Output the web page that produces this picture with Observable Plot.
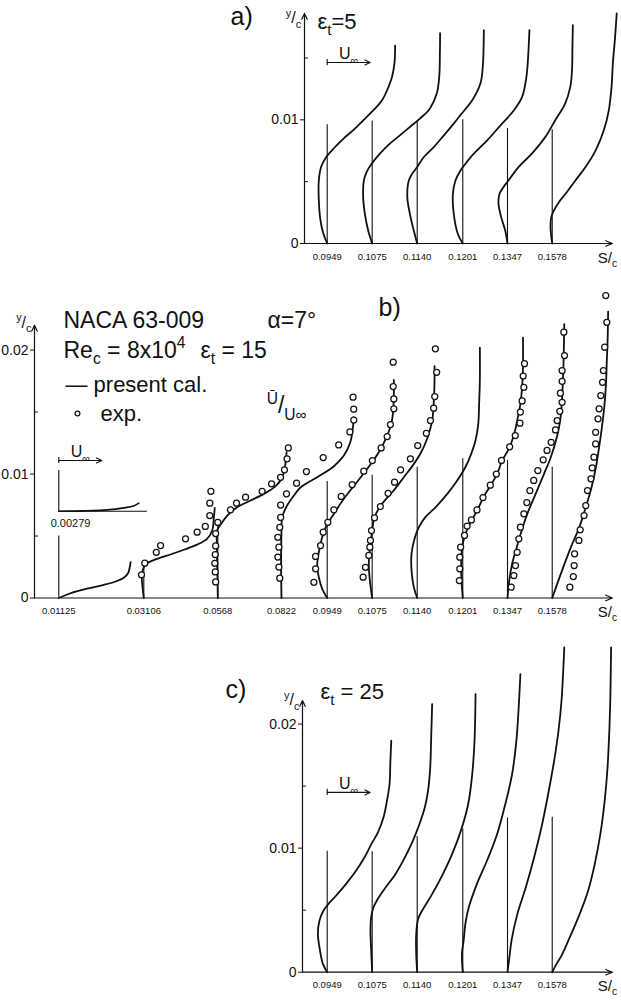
<!DOCTYPE html>
<html><head><meta charset="utf-8">
<script src="https://cdn.jsdelivr.net/npm/d3@7"></script>
<script src="https://cdn.jsdelivr.net/npm/@observablehq/plot@0.6"></script>
<style>body{margin:0;background:#fff} svg{display:block}</style>
</head><body><div id="chart"></div>
<script>
// ---------- DATA ----------
// station origins along the surface (in U∞ units; panel b's s/c origin = 0)
const stationX = [0.565, 2.542, 4.263, 5.744, 6.807, 7.853, 8.9, 9.96, 11.0, 12.04];
const stationLabels = ["0.01125","0.03106","0.0568","0.0822","0.0949","0.1075","0.1140","0.1201","0.1347","0.1578"];
const yTicksA = [0, 0.01], yMinorA = [0.005, 0.015];
const yTicksBC = [0, 0.01, 0.02], yMinorBC = [0.005, 0.015];

// panel a (εt = 5): computed profiles [U/U∞, y/c] at the last six stations
const curvesA = [
  [[0,0],[-0.09,0.0008],[-0.156,0.00186],[-0.195,0.0035],[-0.195,0.0051],[-0.14,0.0062],[-0.04,0.0069],[0.155,0.0077],[0.386,0.0085],[0.62,0.0092],[0.85,0.0100],[1.08,0.0108],[1.28,0.0116],[1.43,0.0127],[1.51,0.0135],[1.565,0.0146],[1.58,0.0160]],
  [[0,0],[-0.093,0.00105],[-0.17,0.0024],[-0.21,0.00375],[-0.193,0.0051],[-0.13,0.00577],[-0.037,0.00632],[0.18,0.00726],[0.41,0.00807],[0.644,0.00874],[0.877,0.00942],[1.11,0.0101],[1.34,0.0109],[1.5,0.0121],[1.56,0.0135],[1.575,0.0154],[1.58,0.0170]],
  [[0,0],[-0.08,0.00105],[-0.17,0.0024],[-0.23,0.00375],[-0.195,0.0051],[-0.116,0.00564],[0,0.00618],[0.155,0.00699],[0.386,0.0078],[0.62,0.00874],[0.85,0.00969],[1.0,0.01036],[1.28,0.01158],[1.47,0.01293],[1.525,0.01428],[1.55,0.01725]],
  [[0,0],[-0.116,0.00079],[-0.21,0.0024],[-0.23,0.00402],[-0.17,0.0051],[-0.053,0.00591],[0.063,0.00645],[0.256,0.00726],[0.567,0.00834],[0.877,0.00955],[1.19,0.01077],[1.38,0.01185],[1.48,0.01347],[1.52,0.0151],[1.55,0.01725]],
  [[0,0],[-0.053,0.00105],[-0.147,0.00213],[-0.209,0.00321],[-0.186,0.00402],[-0.093,0.00456],[0.023,0.0051],[0.256,0.00618],[0.567,0.00726],[0.877,0.0086],[1.11,0.00996],[1.34,0.01131],[1.46,0.01266],[1.5,0.014],[1.51,0.01589],[1.52,0.01765]],
  [[0,0],[-0.04,0.00132],[-0.023,0.00213],[0.04,0.00267],[0.155,0.00334],[0.31,0.00402],[0.54,0.0051],[0.775,0.00618],[1.01,0.00753],[1.2,0.00915],[1.316,0.01077],[1.38,0.01266],[1.41,0.01455],[1.46,0.0166],[1.5,0.0186]]
];
const refA = [0.0096, 0.0099, 0.0099, 0.0100, 0.0093, 0.0092];

// panel b (εt = 15): computed profiles at all ten stations
const curvesB = [
  [[0,0],[0.195,0.00028],[0.43,0.00055],[0.74,0.00082],[1.05,0.00106],[1.32,0.00133],[1.51,0.00163],[1.61,0.002],[1.65,0.00248],[1.67,0.00289]],
  [[0,0],[-0.03,0.00087],[-0.047,0.00181],[-0.015,0.00235],[0.062,0.00276],[0.31,0.00316],[0.62,0.00351],[0.93,0.00389],[1.24,0.00431],[1.47,0.00477],[1.59,0.00544],[1.63,0.00652],[1.65,0.00727]],
  [[0,0],[-0.01,0.002],[-0.02,0.004],[-0.01,0.0055],[0.08,0.006],[0.22,0.00665],[0.45,0.00732],[0.76,0.00786],[1.07,0.0084],[1.34,0.009],[1.5,0.00974],[1.56,0.01055],[1.6,0.01176]],
  [[0,0],[-0.01,0.003],[0,0.0054],[0.016,0.00652],[0.13,0.00746],[0.29,0.00827],[0.44,0.00891],[0.83,0.00974],[1.22,0.01063],[1.45,0.01149],[1.6,0.01256],[1.67,0.01405],[1.68,0.01458]],
  [[0,0],[-0.116,0.00074],[-0.195,0.00168],[-0.233,0.00262],[-0.195,0.00369],[-0.116,0.0049],[-0.016,0.00585],[0.116,0.00657],[0.387,0.008],[0.66,0.00921],[0.93,0.01042],[1.2,0.01176],[1.38,0.01297],[1.49,0.01405],[1.535,0.01512],[1.55,0.01647],[1.55,0.0176]],
  [[0,0],[-0.054,0.00141],[-0.078,0.00276],[-0.04,0.00437],[0,0.00544],[0.054,0.00652],[0.23,0.0076],[0.5,0.00867],[0.735,0.00974],[0.97,0.01082],[1.14,0.01176],[1.29,0.01297],[1.395,0.01431],[1.43,0.01566],[1.45,0.01754],[1.45,0.0187]],
  [[0,0],[-0.078,0.00087],[-0.132,0.00222],[-0.132,0.00356],[-0.062,0.00477],[0.039,0.00571],[0.19,0.00652],[0.426,0.00732],[0.7,0.0084],[0.93,0.00948],[1.12,0.01055],[1.256,0.01163],[1.356,0.0127],[1.42,0.01405],[1.44,0.01566],[1.457,0.01754],[1.457,0.0202]],
  [[0,0],[-0.03,0.00141],[-0.037,0.00276],[-0.014,0.0041],[0.063,0.00518],[0.18,0.00611],[0.335,0.00706],[0.49,0.00819],[0.645,0.00907],[0.8,0.01002],[0.916,0.01109],[1.07,0.01203],[1.186,0.0131],[1.265,0.01431],[1.34,0.01566],[1.38,0.017],[1.4,0.01861],[1.4,0.0210]],
  [[0,0],[0.04,0.00141],[0.116,0.00289],[0.216,0.0041],[0.33,0.00544],[0.46,0.00679],[0.655,0.0084],[0.85,0.01002],[1.007,0.01136],[1.147,0.01297],[1.225,0.01431],[1.27,0.01619],[1.3,0.01861],[1.32,0.0221]],
  [[0,0],[0.2,0.00195],[0.435,0.0041],[0.63,0.00571],[0.78,0.00732],[0.915,0.00894],[1.016,0.01055],[1.09,0.01216],[1.155,0.01377],[1.21,0.01539],[1.25,0.01727],[1.27,0.01915],[1.29,0.02103],[1.3,0.0231]]
];
const refB = [0.005, 0.0025, 0.006, 0.0063, 0.0094, 0.0099, 0.01055, 0.01123, 0.0111, 0.01055];
// experimental points (one list per station)
const expB = [
  [],
  [[-0.053,0.00187],[0.023,0.00281],[0.29,0.00369],[0.39,0.00423],[0.97,0.00477],[1.24,0.00531],[1.43,0.00577],[1.535,0.00665],[1.535,0.00765],[1.56,0.00861]],
  [[-0.05,0.0013],[-0.06,0.0021],[-0.07,0.0028],[-0.06,0.0035],[-0.05,0.0042],[-0.05,0.0052],[0.0,0.0061],[0.295,0.00711],[0.435,0.00765],[0.645,0.00813],[1.03,0.00861],[1.25,0.00921],[1.46,0.00974],[1.55,0.01034],[1.61,0.01123],[1.64,0.01211]],
  [[-0.04,0.0016],[-0.06,0.0025],[-0.085,0.0033],[-0.06,0.0041],[-0.085,0.0049],[-0.04,0.0057],[-0.02,0.0065],[-0.02,0.0075],[0.116,0.0084],[0.35,0.00926],[0.58,0.0102],[0.97,0.01133],[1.33,0.01235],[1.59,0.0134],[1.68,0.01435],[1.68,0.01523],[1.665,0.0162]],
  [[-0.31,0.00127],[-0.27,0.00235],[-0.27,0.00335],[-0.155,0.00423],[-0.093,0.00531],[0.015,0.00611],[0.155,0.00711],[0.326,0.00819],[0.58,0.00915],[0.85,0.01023],[1.05,0.01109],[1.255,0.01211],[1.395,0.01302],[1.47,0.01399],[1.55,0.01526],[1.55,0.01606],[1.535,0.01706],[1.535,0.01902]],
  [[-0.21,0.00168],[-0.155,0.00248],[-0.078,0.00343],[-0.054,0.0041],[-0.04,0.00464],[-0.016,0.00544],[0.054,0.00647],[0.19,0.00738],[0.37,0.00845],[0.52,0.00934],[0.66,0.01034],[0.89,0.01123],[1.06,0.0123],[1.26,0.01329],[1.355,0.01431],[1.43,0.01531],[1.455,0.01625],[1.5,0.01821],[1.47,0.0201]],
  [],
  [[-0.08,0.00141],[-0.07,0.00235],[-0.07,0.00329],[-0.05,0.0041],[0.04,0.00505],[0.1,0.0058],[0.2,0.0063],[0.33,0.0071],[0.47,0.0081],[0.64,0.0091],[0.78,0.0100],[0.9,0.0111],[1.09,0.0122],[1.22,0.0131],[1.33,0.0141],[1.34,0.0150],[1.38,0.0159],[1.42,0.0170],[1.405,0.0179],[1.435,0.0189]],
  [[0.085,0.00087],[0.147,0.00181],[0.186,0.00262],[0.225,0.00369],[0.264,0.00477],[0.3,0.00571],[0.38,0.00679],[0.45,0.0077],[0.52,0.00867],[0.61,0.00948],[0.705,0.01028],[0.83,0.01115],[0.92,0.0119],[1.016,0.01256],[1.116,0.01356],[1.155,0.01431],[1.216,0.01506],[1.27,0.01579],[1.23,0.01652],[1.27,0.01748],[1.27,0.01835],[1.326,0.01956],[1.31,0.02144]],
  [[0.41,0.00087],[0.49,0.00173],[0.51,0.00262],[0.52,0.00356],[0.62,0.00464],[0.65,0.0055],[0.74,0.00665],[0.78,0.00746],[0.82,0.00867],[0.9,0.00961],[0.93,0.0105],[0.97,0.01136],[1.01,0.01243],[1.01,0.01337],[1.065,0.01445],[1.09,0.01526],[1.13,0.01633],[1.17,0.0174],[1.19,0.01835],[1.22,0.02023],[1.27,0.02224],[1.245,0.0244]]
];
// inset profile at s/c = 0.00279 (drawn above the first station)
const insetLabel = "0.00279";
const insetBaseY = 0.0070, insetAxisTop = 0.01028, insetAxisLen = 2.06;
const insetCurve = [[0,0],[0.58,0.00003],[1.125,0.00011],[1.51,0.00027],[1.74,0.00043],[1.86,0.00065]];

// panel c (εt = 25)
const curvesC = [
  [[0,0],[-0.1,0.00067],[-0.18,0.00201],[-0.217,0.00309],[-0.18,0.00416],[-0.085,0.00497],[0.015,0.00545],[0.21,0.00618],[0.44,0.00712],[0.674,0.00819],[0.868,0.00926],[1.02,0.01028],[1.18,0.01127],[1.31,0.01248],[1.39,0.01383],[1.45,0.01517],[1.47,0.01705],[1.49,0.01866]],
  [[0,0],[-0.023,0.00175],[-0.04,0.00336],[-0.023,0.00443],[0.03,0.00523],[0.13,0.00591],[0.286,0.00671],[0.52,0.00779],[0.73,0.00905],[0.93,0.01047],[1.1,0.01195],[1.225,0.01329],[1.3,0.01463],[1.35,0.01651],[1.37,0.01866],[1.395,0.02161]],
  [[0,0],[-0.023,0.00148],[-0.023,0.00309],[0.023,0.0043],[0.116,0.00497],[0.35,0.00631],[0.58,0.00779],[0.814,0.00953],[1.03,0.01155],[1.186,0.01356],[1.28,0.01597],[1.333,0.01866],[1.357,0.02242]],
  [[0,0],[-0.02,0.0015],[0.02,0.00255],[0.06,0.0039],[0.14,0.00523],[0.33,0.00712],[0.565,0.009],[0.8,0.01114],[0.99,0.01356],[1.147,0.01597],[1.247,0.01866],[1.3,0.02134],[1.34,0.02403]],
  [[0,0],[0.04,0.00107],[0.093,0.00255],[0.23,0.0047],[0.426,0.00684],[0.62,0.00926],[0.79,0.01168],[0.946,0.01436],[1.085,0.01705],[1.186,0.01946],[1.256,0.02188],[1.3,0.02456],[1.32,0.02617]],
  [[0,0],[0.1,0.00067],[0.216,0.00134],[0.41,0.00282],[0.64,0.0047],[0.837,0.00658],[0.99,0.00873],[1.12,0.01114],[1.22,0.01382],[1.286,0.0165],[1.325,0.01919],[1.35,0.02188],[1.363,0.02456],[1.37,0.02617]]
];
const refC = [0.00974, 0.0097, 0.01093, 0.01155, 0.01243, 0.01248];

// ---------- DRAWING ----------
const W = 621, PX_PER_U = 43, ORIGIN_PX = 34;
const FONT = "'Liberation Sans', Arial, sans-serif";
const xDom = ml => [(ml - ORIGIN_PX) / PX_PER_U, (W - ORIGIN_PX) / PX_PER_U];

function rows(curves, xs) {
  return curves.flatMap((c, i) => c.map(([u, y]) => ({k: i, x: xs[i] + u, y})));
}
function T(text, x, y, o = {}) {
  return Plot.text([{x, y, t: text}], {x: "x", y: "y", text: "t", textAnchor: "start", lineAnchor: "bottom", fill: "#111", fontSize: 22, ...o});
}
function uArrow(x, y) {
  return [
    Plot.arrow([{x1: x, x2: x + 1, y}], {x1: "x1", x2: "x2", y1: "y", y2: "y", headLength: 8, headAngle: 50, strokeWidth: 1.1, stroke: "#111"}),
    Plot.ruleX([{x, y}], {x: "x", y1: d => d.y - 0.00025, y2: d => d.y + 0.00025, strokeWidth: 1.1, stroke: "#111"}),
    T("U_{∞}", x + 0.5, y + 0.00026, {fontSize: 16, textAnchor: "middle"})
  ];
}
function axes(x0, yTop, ticks, minor) {
  return [
    Plot.axisY(ticks, {tickSize: 4, tickPadding: 2, fontSize: 14, tickFormat: d => d === 0 ? "0" : d.toFixed(2), label: null}),
    Plot.axisY(minor, {tickSize: 4, dx: 4, tickFormat: () => "", label: null}),
    Plot.arrow([{x: x0, y1: 0, y2: yTop}], {x1: "x", x2: "x", y1: "y1", y2: "y2", headLength: 8, headAngle: 50, strokeWidth: 1.2, stroke: "#111"}),
    Plot.arrow([{x1: x0, x2: 13.44}], {x1: "x1", x2: "x2", y1: 0, y2: 0, headLength: 9, headAngle: 45, strokeWidth: 1.2, stroke: "#111"}),
    T("S/_{c}", 13.1, 0, {fontSize: 15, dy: 19})
  ];
}
function stationMarks(xs, labels, curves, refs) {
  const st = xs.map((x, i) => ({x, h: refs[i], label: labels[i]}));
  return [
    Plot.ruleX(st, {x: "x", y1: 0, y2: "h", strokeWidth: 1.1, stroke: "#111"}),
    Plot.line(rows(curves, xs), {x: "x", y: "y", z: "k", curve: "catmull-rom", stroke: "#111", strokeWidth: 1.8}),
    Plot.text(st, {x: "x", y: 0, text: "label", dy: 13, fontSize: 9.5, fill: "#111"})
  ];
}

function panel(cfg) {
  const x0 = xDom(cfg.ml)[0];
  return Plot.plot({
    width: W, height: cfg.height,
    marginTop: cfg.mt, marginBottom: cfg.mb, marginLeft: cfg.ml, marginRight: 0,
    x: {domain: xDom(cfg.ml), axis: null},
    y: {domain: [0, cfg.yMax], axis: null},
    style: {fontFamily: FONT, background: "#fff", color: "#111", overflow: "visible"},
    marks: [...axes(x0, cfg.yTop, cfg.ticks, cfg.minor), ...cfg.marks]
  });
}

const sA = stationX.slice(4), lA = stationLabels.slice(4);

const plotA = panel({
  height: 268, mt: 8, mb: 25, ml: 304, yMax: 0.019, yTop: 0.0186, ticks: yTicksA, minor: yMinorA,
  marks: [
    ...stationMarks(sA, lA, curvesA, refA),
    ...uArrow(sA[0], 0.01463),
    T("a)", 4.56, 0.01763, {fontSize: 25}),
    T("^{y}/_{c}", 6.2, 0.0178, {fontSize: 16, textAnchor: "end"}),
    T("ε_{t}=5", 6.58, 0.01738, {fontSize: 22})
  ]
});

const expRows = expB.flatMap((pts, i) => pts.map(([u, y]) => ({x: stationX[i] + u, y})));
const plotB = panel({
  height: 362, mt: 1, mb: 32.5, ml: 34, yMax: 0.0265, yTop: 0.022, ticks: yTicksBC, minor: yMinorBC,
  marks: [
    ...stationMarks(stationX, stationLabels, curvesB, refB),
    Plot.dot(expRows, {x: "x", y: "y", r: 3, stroke: "#111", strokeWidth: 1.25, fill: "#fff"}),
    // inset profile
    Plot.ruleY([{y: insetBaseY}], {y: "y", x1: stationX[0], x2: stationX[0] + insetAxisLen, stroke: "#111", strokeWidth: 1.1}),
    Plot.ruleX([{x: stationX[0]}], {x: "x", y1: insetBaseY, y2: insetAxisTop, stroke: "#111", strokeWidth: 1.1}),
    Plot.line(insetCurve.map(([u, dy]) => ({x: stationX[0] + u, y: insetBaseY + dy})), {x: "x", y: "y", curve: "catmull-rom", stroke: "#111", strokeWidth: 1.6}),
    T(insetLabel, stationX[0] - 0.19, insetBaseY, {fontSize: 11, dy: 16}),
    ...uArrow(stationX[0], 0.01109),
    // legend & titles
    T("NACA 63-009", 0.674, 0.02181, {fontSize: 23}),
    T("α=7°", 5.42, 0.02181, {fontSize: 23}),
    T("Re_{c} = 8x10^{4}", 0.674, 0.0194, {fontSize: 23}),
    T("ε_{t} = 15", 3.86, 0.0194, {fontSize: 23}),
    T("— present cal.", 0.72, 0.01665, {fontSize: 22}),
    Plot.dot([{x: 1.0, y: 0.01488}], {x: "x", y: "y", r: 2.4, stroke: "#111", strokeWidth: 1.2, fill: "#fff"}),
    T("exp.", 1.535, 0.01431, {fontSize: 22}),
    T("^{Ū}/_{U∞}", 5.4, 0.0149, {fontSize: 23}),
    T("b)", 8.0, 0.02278, {fontSize: 25}),
    T("^{y}/_{c}", -0.07, 0.0218, {fontSize: 16, textAnchor: "end"})
  ]
});

const plotC = panel({
  height: 375, mt: 0.5, mb: 33.3, ml: 302, yMax: 0.0275, yTop: 0.0219, ticks: yTicksBC, minor: yMinorBC,
  marks: [
    ...stationMarks(sA, lA, curvesC, refC),
    ...uArrow(sA[0], 0.01449),
    T("c)", 4.44, 0.0221, {fontSize: 25}),
    T("^{y}/_{c}", 6.16, 0.0215, {fontSize: 16, textAnchor: "end"}),
    T("ε_{t} = 25", 6.65, 0.02204, {fontSize: 22})
  ]
});

const root = document.getElementById("chart");
[plotA, plotB, plotC].forEach(p => root.appendChild(p));

// rich text: _{..} subscript, ^{..} superscript
function richify(svg) {
  svg.querySelectorAll("text").forEach(t => {
    const s = t.textContent;
    if (!/[_^]\{/.test(s)) return;
    const fs = parseFloat(getComputedStyle(t).fontSize) || 14;
    while (t.firstChild) t.removeChild(t.firstChild);
    const re = /([_^])\{([^}]*)\}/g;
    let last = 0, m, cur = 0;
    const add = (txt, shift, small) => {
      if (!txt) return;
      const ts = document.createElementNS("http://www.w3.org/2000/svg", "tspan");
      ts.setAttribute("dy", (shift - cur).toFixed(2));
      if (small) ts.setAttribute("font-size", (fs * 0.68).toFixed(1));
      ts.textContent = txt;
      t.appendChild(ts);
      cur = shift;
    };
    while ((m = re.exec(s))) {
      add(s.slice(last, m.index), 0, false);
      add(m[2], m[1] === "_" ? fs * 0.28 : -fs * 0.42, true);
      last = re.lastIndex;
    }
    add(s.slice(last), 0, false);
  });
}
[plotA, plotB, plotC].forEach(richify);
</script></body></html>
